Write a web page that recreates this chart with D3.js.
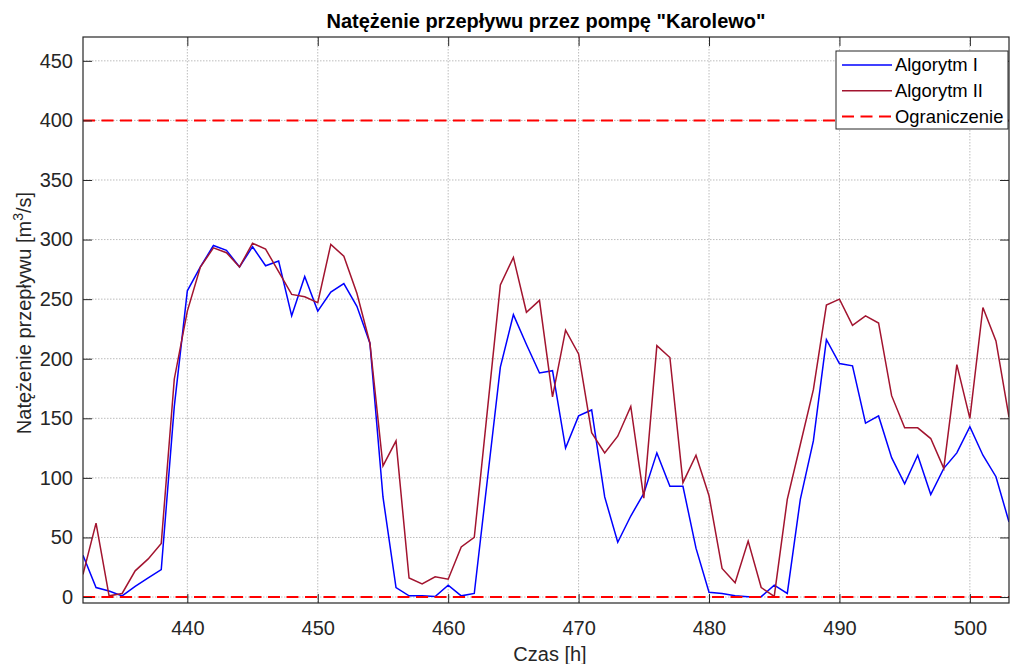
<!DOCTYPE html>
<html>
<head>
<meta charset="utf-8">
<script src="https://cdn.jsdelivr.net/npm/d3@7"></script>
<style>
  html, body { margin: 0; padding: 0; background: #fff; }
  svg { display: block; font-family: "Liberation Sans", Arial, Helvetica, sans-serif; }
</style>
</head>
<body>
<svg id="chart" width="1013" height="664"></svg>
<script>
// ---- data ----
const hours = [432,433,434,435,436,437,438,439,440,441,442,443,444,445,446,447,448,449,450,451,452,453,454,455,456,457,458,459,460,461,462,463,464,465,466,467,468,469,470,471,472,473,474,475,476,477,478,479,480,481,482,483,484,485,486,487,488,489,490,491,492,493,494,495,496,497,498,499,500,501,502,503];
const algorytmI = [35,8,5,1,9,16,23,160,257,277,295,291,277,294,278,282,236,269,240,256,263,244,213,84,8,1,1,0.5,10,1,3,98,193,237,212,188,190,125,152,157,84,46,68,87,121,93,93,41,4,3,1,0.3,0.3,10,3,82,131,216,196,194,146,152,117,95,119,86,108,121,143,119,101,63];
const algorytmII = [19,62,1,3,22,32,45,183,240,277,293,289,277,297,292,273,254,252,247,296,286,255,213,110,131,16,11,17,15,42,50,156,262,285,239,249,168,224,204,138,121,135,160,83,211,201,96,119,85,24,12,47,8,0.5,82,128,174,245,250,228,236,230,169,142,142,133,108,195,150,243,215,151];
const limits = [0, 400];
const xTicks = [440,450,460,470,480,490,500];
const yTicks = [0,50,100,150,200,250,300,350,400,450];
const seriesNames = ["Algorytm I", "Algorytm II", "Ograniczenie"];
const title = 'Natężenie przepływu przez pompę "Karolewo"';
const xLabel = "Czas [h]";

// ---- layout ----
const svg = d3.select("#chart");
const L = 83, R = 1009, T = 37, B = 603;
const x = d3.scaleLinear().domain([432, 503]).range([L, R]);
const y = d3.scaleLinear().domain([-5, 470]).range([B, T]);
const axisColor = "#262626";

// grid
const grid = svg.append("g");
grid.selectAll("line.gx").data(xTicks).join("line")
  .attr("x1", d => x(d)).attr("x2", d => x(d)).attr("y1", T).attr("y2", B)
  .attr("stroke", "#bcbcbc").attr("stroke-width", 1).attr("stroke-dasharray", "1.5,1.5");
grid.selectAll("line.gy").data(yTicks).join("line")
  .attr("x1", L).attr("x2", R).attr("y1", d => y(d)).attr("y2", d => y(d))
  .attr("stroke", "#bcbcbc").attr("stroke-width", 1).attr("stroke-dasharray", "1.5,1.5");

// clip
svg.append("clipPath").attr("id", "clip").append("rect")
  .attr("x", L).attr("y", T).attr("width", R - L).attr("height", B - T);
const plot = svg.append("g").attr("clip-path", "url(#clip)");

const line = d3.line().x((d, i) => x(hours[i])).y(d => y(d));

plot.append("path").datum(algorytmI).attr("d", line)
  .attr("fill", "none").attr("stroke", "#0000ff").attr("stroke-width", 1.5);
plot.append("path").datum(algorytmII).attr("d", line)
  .attr("fill", "none").attr("stroke", "#a2142f").attr("stroke-width", 1.5);
plot.selectAll("line.lim").data(limits).join("line")
  .attr("x1", x(432)).attr("x2", x(503)).attr("y1", d => y(d)).attr("y2", d => y(d))
  .attr("stroke", "#ff0000").attr("stroke-width", 2).attr("stroke-dasharray", "12,6.5");

// axes (ticks inward)
const tickLen = 9;
const gx = svg.append("g").attr("transform", `translate(0,${B})`)
  .call(d3.axisBottom(x).tickValues(xTicks).tickSize(-tickLen).tickPadding(18).tickFormat(d3.format("d")));
const gxTop = svg.append("g").attr("transform", `translate(0,${T})`)
  .call(d3.axisTop(x).tickValues(xTicks).tickSize(-tickLen).tickFormat(""));
const gy = svg.append("g").attr("transform", `translate(${L},0)`)
  .call(d3.axisLeft(y).tickValues(yTicks).tickSize(-tickLen).tickPadding(10).tickFormat(d3.format("d")));
const gyR = svg.append("g").attr("transform", `translate(${R},0)`)
  .call(d3.axisRight(y).tickValues(yTicks).tickSize(-tickLen).tickFormat(""));
[gx, gxTop, gy, gyR].forEach(g => {
  g.select(".domain").remove();
  g.selectAll("line").attr("stroke", axisColor).attr("stroke-width", 1);
  g.selectAll("text").attr("fill", axisColor).style("font-size", "20px")
    .style("font-family", '"Liberation Sans", Arial, sans-serif');
});
// box
svg.append("rect").attr("x", L).attr("y", T).attr("width", R - L).attr("height", B - T)
  .attr("fill", "none").attr("stroke", axisColor).attr("stroke-width", 1.2);

// title
svg.append("text").attr("x", (L + R) / 2).attr("y", 28).attr("text-anchor", "middle")
  .style("font-size", "20px").style("font-weight", "bold").attr("fill", "#000").text(title);
// x label
svg.append("text").attr("x", (L + R) / 2 + 4).attr("y", 661).attr("text-anchor", "middle")
  .style("font-size", "20px").attr("fill", axisColor).text(xLabel);
// y label
const yl = svg.append("text").attr("transform", "translate(31,313) rotate(-90)").attr("text-anchor", "middle")
  .style("font-size", "20px").attr("fill", axisColor);
yl.append("tspan").text("Natężenie przepływu [m");
yl.append("tspan").attr("dy", -8).style("font-size", "14px").text("3");
yl.append("tspan").attr("dy", 8).text("/s]");

// legend
const lg = svg.append("g");
const lx = 836, ly = 51, lw = 172, lh = 78;
lg.append("rect").attr("x", lx).attr("y", ly).attr("width", lw).attr("height", lh)
  .attr("fill", "#fff").attr("stroke", axisColor).attr("stroke-width", 1);
const legColors = ["#0000ff", "#a2142f", "#ff0000"];
const legDash = [null, null, "12,6.5"];
const legW = [1.5, 1.5, 2];
seriesNames.forEach((name, i) => {
  const cy = ly + 14 + i * 25.8;
  lg.append("line").attr("x1", lx + 6).attr("x2", lx + 56).attr("y1", cy).attr("y2", cy)
    .attr("stroke", legColors[i]).attr("stroke-width", legW[i]).attr("stroke-dasharray", legDash[i]);
  lg.append("text").attr("x", lx + 59).attr("y", cy).attr("dy", "0.35em")
    .style("font-size", "18.4px").attr("fill", "#000").text(name);
});
</script>
</body>
</html>
